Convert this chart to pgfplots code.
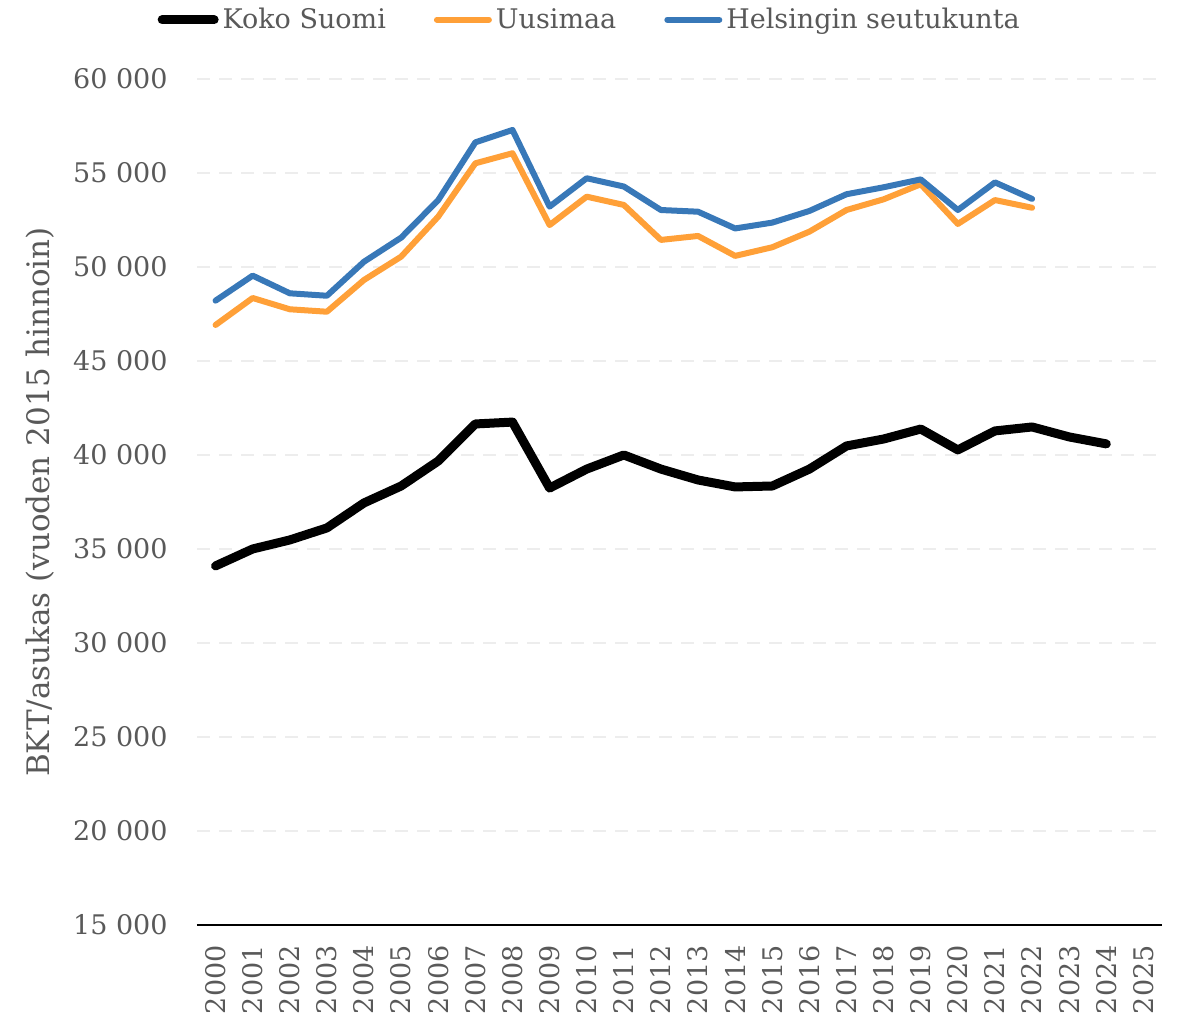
\documentclass[border=0pt]{standalone}
\usepackage{pgfplots}
\pgfplotsset{compat=1.18}
\usepackage{fontspec}
\setmainfont{DejaVu Serif}
\definecolor{txt}{HTML}{595959}
\definecolor{orng}{HTML}{FFA038}
\definecolor{blu}{HTML}{3878B8}
\definecolor{grd}{HTML}{EDEDED}
\newcommand\fnt{\fontsize{13.5bp}{16bp}\selectfont}
\begin{document}
\begin{tikzpicture}
\begin{axis}[
    scale only axis,
    width=482.5bp, height=423bp,
    xmin=-0.5, xmax=25.5,
    ymin=15000, ymax=60000,
    scaled y ticks=false,
    axis x line*=bottom,
    axis y line*=left,
    y axis line style={draw=none},
    x axis line style={black, line width=1.2bp},
    major tick length=0pt,
    xtick={0,...,25},
    xticklabels={2000,2001,2002,2003,2004,2005,2006,2007,2008,2009,2010,2011,2012,2013,2014,2015,2016,2017,2018,2019,2020,2021,2022,2023,2024,2025},
    ytick={15000,20000,...,60000},
    yticklabels={15 000,20 000,25 000,30 000,35 000,40 000,45 000,50 000,55 000,60 000},
    xticklabel style={rotate=90, anchor=east, inner sep=0pt, font=\fnt, text=txt},
    yticklabel style={anchor=east, inner sep=0pt, font=\fnt, text=txt},
    xticklabel shift=10bp,
    yticklabel shift=14.5bp,
    ymajorgrids,
    grid style={grd, line width=0.8bp, dash pattern=on 6.5bp off 4.5bp},
    ylabel={BKT/asukas (vuoden 2015 hinnoin)},
    every axis y label/.style={at={(rel axis cs:-0.1627,0.5)}, rotate=90, anchor=center,
        font=\fontsize{15.5bp}{18bp}\selectfont, text=txt},
    legend columns=3,
    legend style={at={(0.408,1.07)}, anchor=center, draw=none, fill=none, font=\fnt, text=txt,
        /tikz/every even column/.append style={column sep=22bp}},
    legend image code/.code={\draw[#1, line cap=round] (0bp,0bp) -- (26bp,0bp);},
    clip=false,
]
\coordinate (sw) at (rel axis cs:0,0);
\coordinate (ne) at (rel axis cs:1,1);

\addplot[black, line width=4.5bp, line cap=round, line join=round] coordinates {
(0,34100) (1,35000) (2,35480) (3,36120) (4,37450) (5,38350) (6,39680) (7,41650)
(8,41750) (9,38240) (10,39250) (11,40000) (12,39250) (13,38670) (14,38300)
(15,38350) (16,39250) (17,40480) (18,40850) (19,41380) (20,40270) (21,41280)
(22,41490) (23,40960) (24,40590)
};
\addlegendentry{Koko Suomi}

\addplot[orng, line width=3bp, line cap=round, line join=round] coordinates {
(0,46915) (1,48350) (2,47750) (3,47620) (4,49310) (5,50550) (6,52680) (7,55515)
(8,56050) (9,52230) (10,53740) (11,53300) (12,51440) (13,51650) (14,50590)
(15,51050) (16,51880) (17,53030) (18,53600) (19,54400) (20,52290) (21,53560)
(22,53150)
};
\addlegendentry{Uusimaa}

\addplot[blu, line width=3bp, line cap=round, line join=round] coordinates {
(0,48210) (1,49540) (2,48600) (3,48470) (4,50280) (5,51560) (6,53560) (7,56630)
(8,57290) (9,53210) (10,54720) (11,54280) (12,53030) (13,52940) (14,52050)
(15,52360) (16,52980) (17,53870) (18,54240) (19,54660) (20,53030) (21,54500)
(22,53620)
};
\addlegendentry{Helsingin seutukunta}
\end{axis}
\pgfresetboundingbox
\path ([shift={(-98.5bp,-47.5bp)}]sw) rectangle ([shift={(12bp,39.5bp)}]ne);
\end{tikzpicture}
\end{document}
